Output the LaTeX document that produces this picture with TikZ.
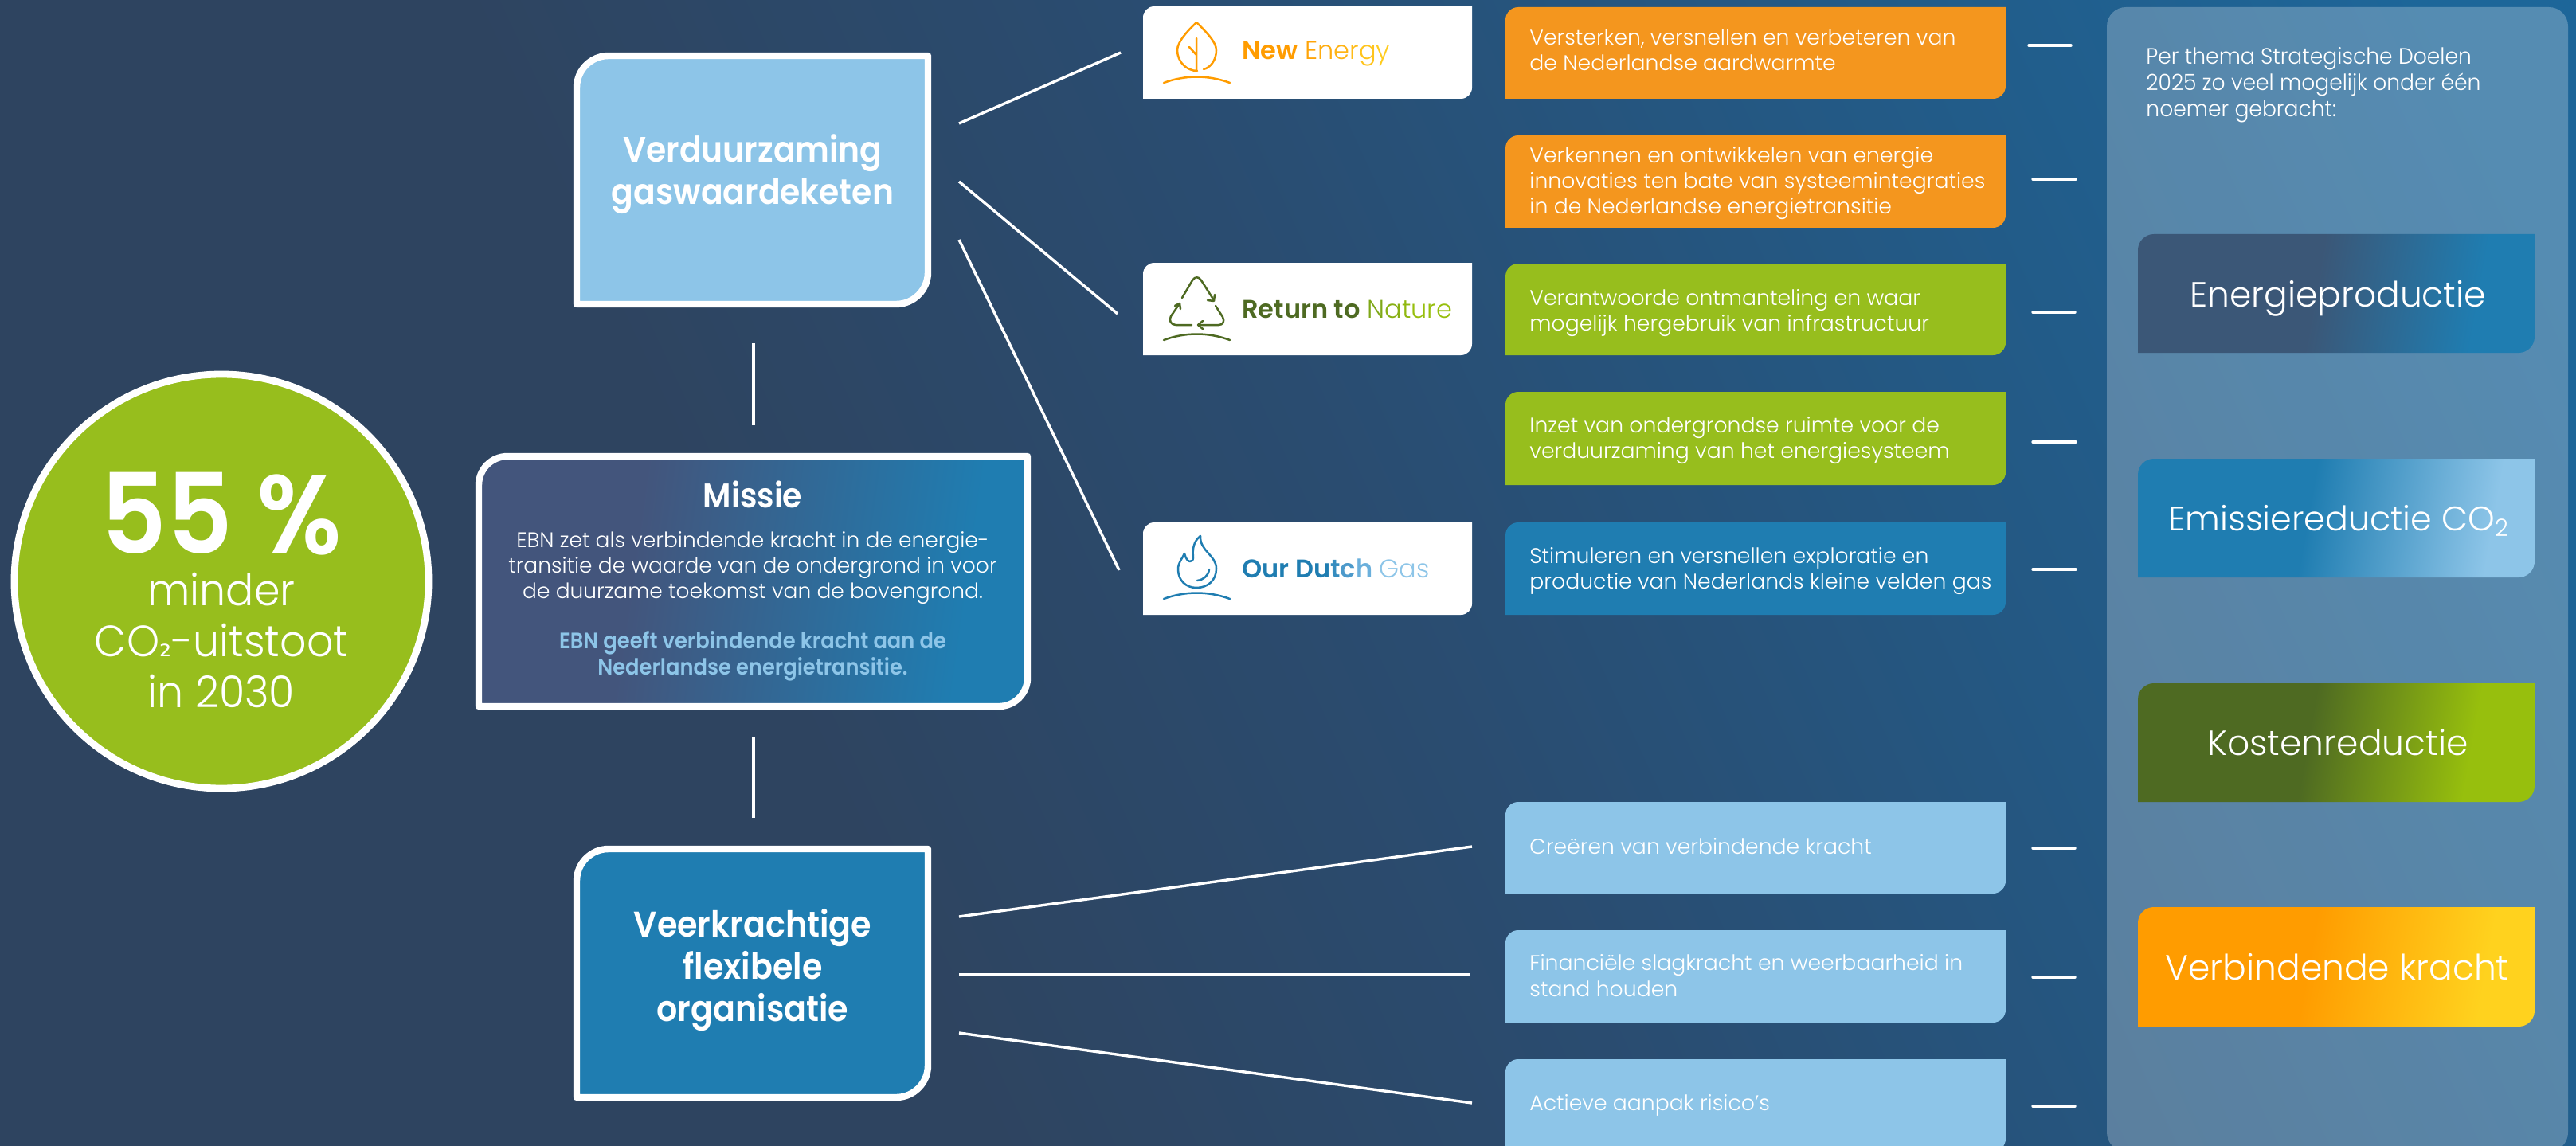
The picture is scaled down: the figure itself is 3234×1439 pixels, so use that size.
\documentclass[tikz,border=0pt]{standalone}
\usepackage{fontspec}
\setmainfont{Poppins Light}[BoldFont={Poppins SemiBold}]
\newfontfamily\subfont{DejaVu Sans}
\newfontfamily\boldn{Poppins SemiBold}[FakeStretch=.92]
\newfontfamily\lightn{Poppins Light}[FakeStretch=.95]
\usetikzlibrary{calc}
\definecolor{lblue}{HTML}{8DC5E8}
\definecolor{mblue}{HTML}{1F7DB1}
\definecolor{orgbox}{HTML}{F4961E}
\definecolor{grnbox}{HTML}{97BE1D}
\definecolor{dgreen}{HTML}{4E6A22}
\definecolor{lgreen}{HTML}{97BF0D}
\definecolor{orange1}{HTML}{FF9C00}
\definecolor{yellow1}{HTML}{FFD21E}
\definecolor{slate}{HTML}{3B5777}
\definecolor{misleft}{HTML}{43557C}
\definecolor{bga}{HTML}{2E4460}
\definecolor{bgb}{HTML}{2A4C70}
\definecolor{bgc}{HTML}{1D6699}
\pgfdeclarehorizontalshading{bgshade}{100bp}{color(0bp)=(bga);color(25bp)=(bga);color(38bp)=(bga);color(52bp)=(bgb);color(80bp)=(bgc);color(100bp)=(bgc)}
\pgfdeclarehorizontalshading{misshade}{100bp}{color(0bp)=(misleft);color(38bp)=(misleft);color(71bp)=(mblue);color(100bp)=(mblue)}
\pgfdeclarehorizontalshading{engshade}{100bp}{color(0bp)=(slate);color(47bp)=(slate);color(70bp)=(mblue);color(100bp)=(mblue)}
\pgfdeclarehorizontalshading{emishade}{100bp}{color(0bp)=(mblue);color(46bp)=(mblue);color(72bp)=(lblue);color(100bp)=(lblue)}
\pgfdeclarehorizontalshading{kosshade}{100bp}{color(0bp)=(dgreen);color(46bp)=(dgreen);color(69bp)=(lgreen);color(100bp)=(lgreen)}
\pgfdeclarehorizontalshading{verbshade}{100bp}{color(0bp)=(orange1);color(46bp)=(orange1);color(71bp)=(yellow1);color(100bp)=(yellow1)}
% box with rounded top-left and bottom-right corners
\newcommand{\leafbox}[7]{%
  \pgfmathsetmacro{\rr}{#7}\pgfmathsetmacro{\kk}{.45*#7}
  \path[#2] (#3,#6) -- (#3,#4+\rr) .. controls (#3,#4+\kk) and (#3+\kk,#4) .. (#3+\rr,#4)
    -- (#5,#4) -- (#5,#6-\rr) .. controls (#5,#6-\kk) and (#5-\kk,#6) .. (#5-\rr,#6) -- cycle;
  \pgfmathsetmacro{\mw}{(#5-#3)*.5}\pgfmathsetmacro{\mh}{(#6-#4)*.5}
  \node[inner sep=0pt,minimum width=\mw pt,minimum height=\mh pt] (#1) at ({(#3+#5)/2},{(#4+#6)/2}) {};
}
\newcommand{\fs}[2]{\fontsize{#1}{#2}\selectfont}
\tikzset{x=0.5pt,y=-0.5pt,
  conn/.style={draw=white,line width=1.7pt},
  tick/.style={draw=white,line width=1.7pt,line cap=round},
  heavy/.style={draw=white,line width=4.2pt,line join=round},
  txt/.style={text=white,inner sep=0pt,anchor=west,align=left,font=\fs{13.35}{16.2}},
  ctr/.style={text=white,inner sep=0pt,align=center},
  icon/.style={line width=1.25pt,line cap=round,line join=round},
  logo/.style={inner sep=0pt,anchor=base west,font=\fs{16}{18}}
}
\begin{document}
\begin{tikzpicture}
\useasboundingbox (0,0) rectangle (3234,1439);
\shade[shading=bgshade,shading angle=25] (0,0) rectangle (3234,1439);
% right panel
\path[fill=white,fill opacity=.25,rounded corners=12pt] (2645,9) rectangle (3224,1446);
\node[inner sep=0pt] (panel) at (2934,725) {};
% central boxes
\leafbox{verd}{fill=lblue,heavy}{724}{70}{1165}{382}{40}
\leafbox{miss}{shading=misshade,shading angle=-8,heavy}{601}{573}{1290}{887}{36}
\leafbox{veer}{fill=mblue,heavy}{724}{1066}{1165}{1378}{40}
% circle
\node[circle,fill=grnbox,draw=white,line width=4.4pt,minimum size=260pt,inner sep=0pt] (circ) at (278,730) {};
\node[ctr,anchor=base,text depth=0pt,font=\boldn\fs{70}{70}] (pct) at (278,695) {55 \%};
\node[ctr,font=\lightn\fs{27.5}{32}] (circt) at (278,804) {minder\\CO{\subfont\fontsize{19}{32}\selectfont ₂}-uitstoot\\in 2030};
% centre texts
\node[ctr,font=\boldn\fs{22.2}{26.4}] (verdt) at (945,219) {Verduurzaming\\gaswaardeketen};
\node[ctr,font=\boldn\fs{22.4}{26.5}] (veert) at (945,1218) {Veerkrachtige\\flexibele\\organisatie};
\node[ctr,font=\boldn\fs{21.4}{24}] (misst) at (945,621) {Missie};
\node[ctr,font=\fs{13.25}{16.2}] (missb) at (945,713) {EBN zet als verbindende kracht in de energie-\\transitie de waarde van de ondergrond in voor\\de duurzame toekomst van de bovengrond.};
\node[ctr,text=lblue,font=\boldn\fs{14}{16.4}] (missc) at (945,824) {EBN geeft verbindende kracht aan de\\Nederlandse energietransitie.};
% connectors
\coordinate (v1) at (1204,155); \coordinate (n1) at (1407,66);
\coordinate (v2) at (1204,228); \coordinate (n2) at (1403,394);
\coordinate (v3) at (1204,301); \coordinate (n3) at (1405,716);
\coordinate (o1) at (1204,1151); \coordinate (b1) at (1848,1063);
\coordinate (o2) at (1204,1224); \coordinate (b2) at (1846,1224);
\coordinate (o3) at (1204,1297); \coordinate (b3) at (1848,1385);
\coordinate (m1) at (946,431); \coordinate (m2) at (946,534);
\coordinate (m3) at (946,926); \coordinate (m4) at (946,1027);
\draw[conn] (v1) -- (n1); \draw[conn] (v2) -- (n2); \draw[conn] (v3) -- (n3);
\draw[conn] (o1) -- (b1); \draw[conn] (o2) -- (b2); \draw[conn] (o3) -- (b3);
\draw[conn] (m1) -- (m2); \draw[conn] (m3) -- (m4);
% logo boxes
\leafbox{lnew}{fill=white}{1435}{8}{1848}{124}{14}
\leafbox{lret}{fill=white}{1435}{330}{1848}{446}{14}
\leafbox{lgas}{fill=white}{1435}{656}{1848}{772}{14}
% new energy icon
\draw[icon,orange1] (1503,89) .. controls (1490,89) and (1478,78) .. (1478,63) .. controls (1478,52) and (1492,38) .. (1502,28) .. controls (1512,38) and (1527,52) .. (1527,63) .. controls (1527,75) and (1520,85) .. (1511,87);
\draw[icon,orange1] (1502,48) -- (1502,89) (1493,59) -- (1502,69);
\draw[icon,orange1] (1461,104) .. controls (1488,94) and (1517,94) .. (1544,104);
\node[logo] (tnew) at (1559,75) {\textcolor{orange1}{\textbf{New}} \textcolor[HTML]{FFA408}{E}\textcolor[HTML]{FFAC0E}{n}\textcolor[HTML]{FFB414}{e}\textcolor[HTML]{FFBC18}{r}\textcolor[HTML]{FFC41C}{g}\textcolor[HTML]{FFCC1E}{y}};
% return icon
\draw[icon,dgreen] (1484,374) -- (1497,352) .. controls (1500,347) and (1505,347) .. (1508,352) -- (1524,377);
\draw[icon,dgreen] (1516,377) -- (1524,378) -- (1525,370);
\draw[icon,dgreen] (1526,384) -- (1535,398) .. controls (1538,404) and (1535,408) .. (1530,408) -- (1504,408);
\draw[icon,dgreen] (1510,403) -- (1504,408) -- (1510,413);
\draw[icon,dgreen] (1496,408) -- (1476,408) .. controls (1470,408) and (1467,402) .. (1470,397) -- (1481,381);
\draw[icon,dgreen] (1475,384) -- (1481,381) -- (1482,388);
\draw[icon,dgreen] (1461,427) .. controls (1488,417) and (1517,417) .. (1544,427);
\node[logo] (tret) at (1559,399) {\textcolor{dgreen}{\textbf{Return to}} \textcolor[HTML]{7FA818}{N}\textcolor[HTML]{88B014}{a}\textcolor[HTML]{90B810}{t}\textcolor{lgreen}{ure}};
% gas icon
\draw[icon,mblue] (1487,695) .. controls (1484,702) and (1479,706) .. (1479,715) .. controls (1479,729) and (1489,738) .. (1502,738) .. controls (1516,738) and (1527,729) .. (1527,714) .. controls (1527,697) and (1506,692) .. (1507,673) .. controls (1498,680) and (1497,690) .. (1498,700) .. controls (1498,707) and (1490,708) .. (1487,695) -- cycle;
\draw[icon,mblue] (1503,729) .. controls (1511,728) and (1517,723) .. (1518,715);
\draw[icon,mblue] (1461,752) .. controls (1488,742) and (1517,742) .. (1544,752);
\node[logo] (tgas) at (1559,725) {\textcolor{mblue}{\textbf{Our Du}}\textcolor[HTML]{358CBF}{\textbf{t}}\textcolor[HTML]{4D9ACB}{\textbf{c}}\textcolor[HTML]{6BB0DC}{\textbf{h}} \textcolor{lblue}{Gas}};
% goal boxes
\leafbox{g1}{fill=orgbox}{1890}{9}{2518}{124}{16}
\leafbox{g2}{fill=orgbox}{1890}{170}{2518}{286}{16}
\leafbox{g3}{fill=grnbox}{1890}{331}{2518}{446}{16}
\leafbox{g4}{fill=grnbox}{1890}{492}{2518}{609}{16}
\leafbox{g5}{fill=mblue}{1890}{656}{2518}{772}{16}
\leafbox{g6}{fill=lblue}{1890}{1007}{2518}{1122}{16}
\leafbox{g7}{fill=lblue}{1890}{1168}{2518}{1284}{16}
\leafbox{g8}{fill=lblue}{1890}{1330}{2518}{1446}{16}
\node[txt] (t1) at (1920,63) {Versterken, versnellen en verbeteren van\\de Nederlandse aardwarmte};
\node[txt] (t2) at (1920,230) {Verkennen en ontwikkelen van energie\\innovaties ten bate van systeemintegraties\\in de Nederlandse energietransitie};
\node[txt] (t3) at (1920,393) {Verantwoorde ontmanteling en waar\\mogelijk hergebruik van infrastructuur};
\node[txt] (t4) at (1920,553) {Inzet van ondergrondse ruimte voor de\\verduurzaming van het energiesysteem};
\node[txt] (t5) at (1920,717) {Stimuleren en versnellen exploratie en\\productie van Nederlands kleine velden gas};
\node[txt] (t6) at (1920,1063) {Creëren van verbindende kracht};
\node[txt] (t7) at (1920,1225) {Financiële slagkracht en weerbaarheid in\\stand houden};
\node[txt] (t8) at (1920,1388) {Actieve aanpak risico’s};
% ticks
\coordinate (d1a) at (2547,57); \coordinate (d1b) at (2600,57);
\coordinate (d2a) at (2552,225); \coordinate (d2b) at (2606,225);
\coordinate (d3a) at (2552,392); \coordinate (d3b) at (2605,392);
\coordinate (d4a) at (2552,555); \coordinate (d4b) at (2606,555);
\coordinate (d5a) at (2552,715); \coordinate (d5b) at (2606,715);
\coordinate (d6a) at (2552,1065); \coordinate (d6b) at (2605,1065);
\coordinate (d7a) at (2552,1227); \coordinate (d7b) at (2605,1227);
\coordinate (d8a) at (2552,1389); \coordinate (d8b) at (2605,1389);
\foreach \k in {1,...,8} {\draw[tick] (d\k a) -- (d\k b);}
% panel text
\node[txt,font=\lightn\fs{14}{16.4}] (ptxt) at (2694,107) {Per thema Strategische Doelen\\2025 zo veel mogelijk onder één\\noemer gebracht:};
% theme boxes
\leafbox{th1}{shading=engshade,shading angle=-10}{2684}{294}{3182}{443}{20}
\leafbox{th2}{shading=emishade,shading angle=-10}{2684}{576}{3182}{725}{20}
\leafbox{th3}{shading=kosshade,shading angle=-10}{2684}{858}{3182}{1007}{20}
\leafbox{th4}{shading=verbshade,shading angle=-10}{2684}{1139}{3182}{1289}{20}
\node[ctr,font=\fs{22}{26}] (tt1) at (2935,375) {Energieproductie};
\node[ctr,font=\fs{21.4}{26}] (tt2) at (2936,654) {Emissiereductie CO\textsubscript{2}};
\node[ctr,font=\fs{22}{26}] (tt3) at (2935,932) {Kostenreductie};
\node[ctr,font=\fs{22}{26}] (tt4) at (2934,1214) {Verbindende kracht};
\end{tikzpicture}
\end{document}
